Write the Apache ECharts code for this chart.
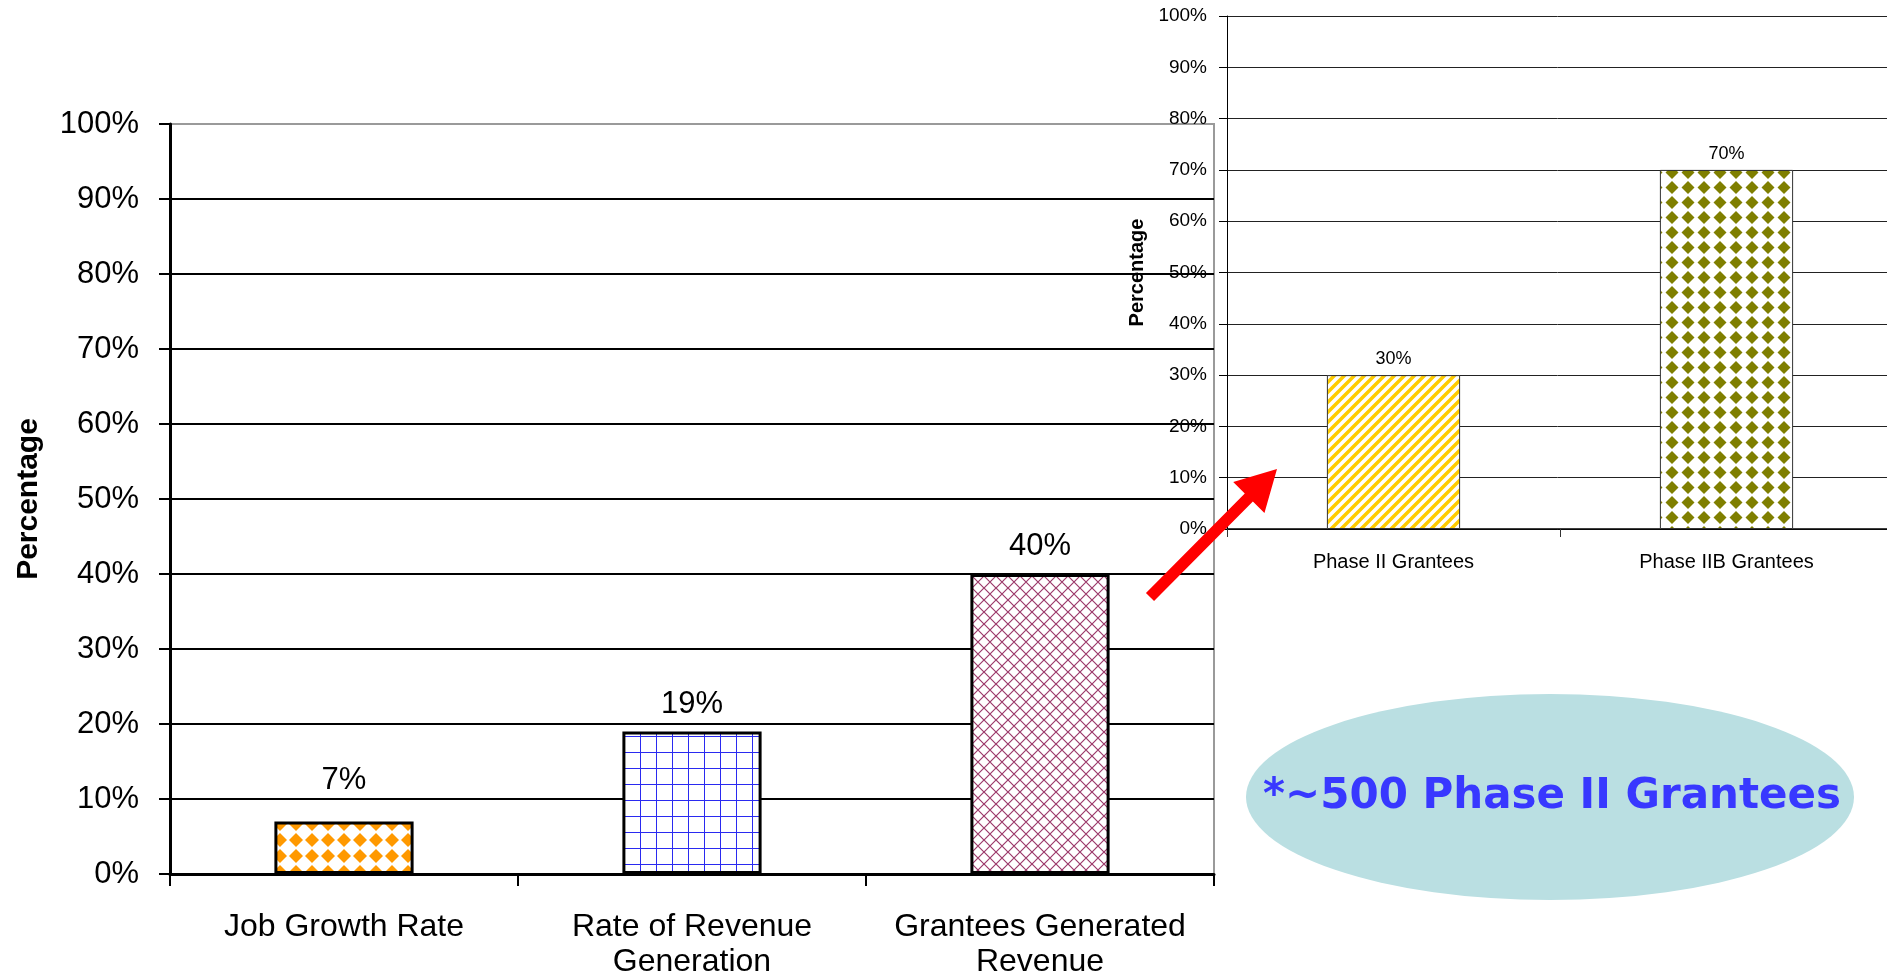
<!DOCTYPE html>
<html>
<head>
<meta charset="utf-8">
<script src="https://cdn.jsdelivr.net/npm/echarts@6/dist/echarts.min.js"></script>
<style>
html,body{margin:0;padding:0;background:#fff;}
#chart{width:1887px;height:975px;}
</style>
</head>
<body>
<div id="chart"></div>
<script>
// ---- data ----
const mainCategories = ['Job Growth Rate', 'Rate of Revenue\nGeneration', 'Grantees Generated\nRevenue'];
const mainValues = [7, 19, 40];
const insetCategories = ['Phase II Grantees', 'Phase IIB Grantees'];
const insetValues = [30, 70];
const yTickMin = 0, yTickMax = 100, yTickStep = 10;
const axisTitle = 'Percentage';
const noteText = '*~500 Phase II Grantees';

// ---- pattern helpers ----
function makeCanvas(w, h) { const c = document.createElement('canvas'); c.width = w; c.height = h; const x = c.getContext('2d'); x.fillStyle = '#fff'; x.fillRect(0, 0, w, h); return [c, x]; }
function diamonds(w, h, r, color) {
  const [c, x] = makeCanvas(w, h); x.fillStyle = color;
  const cx = w / 2, cy = h / 2;
  x.beginPath(); x.moveTo(cx, cy - r); x.lineTo(cx + r, cy); x.lineTo(cx, cy + r); x.lineTo(cx - r, cy); x.closePath(); x.fill();
  return c;
}
function gridPat(s, color) {
  const [c, x] = makeCanvas(s, s); x.fillStyle = color;
  x.fillRect(0, 0, s, 1); x.fillRect(0, 0, 1, s);
  return c;
}
function crossHatch(s, color) {
  const [c, x] = makeCanvas(s, s); x.strokeStyle = color; x.lineWidth = 1.2;
  x.beginPath(); x.moveTo(0, 0); x.lineTo(s, s); x.moveTo(s, 0); x.lineTo(0, s); x.stroke();
  return c;
}
function stripes(s, color, lw) {
  const [c, x] = makeCanvas(s, s); x.strokeStyle = color; x.lineWidth = lw;
  x.beginPath(); x.moveTo(-s, 2 * s); x.lineTo(2 * s, -s); x.moveTo(-s, s); x.lineTo(s, -s); x.moveTo(0, 2 * s); x.lineTo(2 * s, 0); x.stroke();
  return c;
}
const pat = c => ({ image: c, repeat: 'repeat' });
const mainPatterns = [pat(diamonds(16, 16, 7, '#FF9900')), pat(gridPat(16, '#2A2AF0')), pat(crossHatch(12, '#9C3A6A'))];
const insetPatterns = [pat(stripes(10, '#FFCC00', 3.5)), pat(diamonds(16, 15, 6.5, '#7F7F00'))];
const mainLabelDistance = [26, 12, 12];

const FONT = 'Liberation Sans, Arial, sans-serif';
const chart = echarts.init(document.getElementById('chart'), null, { renderer: 'canvas' });

const splitColorsMain = [];
for (let v = yTickMin; v <= yTickMax; v += yTickStep) splitColorsMain.push(v === yTickMax ? '#9a9a9a' : '#000');

// arrow geometry (decoration)
const tail = [1150, 597], tip = [1277, 469];
const dx = tip[0] - tail[0], dy = tip[1] - tail[1], L = Math.hypot(dx, dy);
const ux = dx / L, uy = dy / L, nx = -uy, ny = ux;
const headLen = 40, headHW = 22, shaftHW = 5.7;
const bx = tip[0] - headLen * ux, by = tip[1] - headLen * uy;
const arrowPts = [
  [tail[0] + shaftHW * nx, tail[1] + shaftHW * ny],
  [bx + shaftHW * nx, by + shaftHW * ny],
  [bx + headHW * nx, by + headHW * ny],
  tip,
  [bx - headHW * nx, by - headHW * ny],
  [bx - shaftHW * nx, by - shaftHW * ny],
  [tail[0] - shaftHW * nx, tail[1] - shaftHW * ny]
];

const option = {
  animation: false,
  backgroundColor: '#fff',
  textStyle: { fontFamily: FONT },
  grid: [
    { left: 170, right: 673, top: 124, bottom: 101, show: true, borderColor: '#9a9a9a', borderWidth: 2, backgroundColor: 'transparent', containLabel: false, outerBoundsMode: 'none' },
    { left: 1227, right: -6, top: 16, bottom: 446, show: false, containLabel: false, outerBoundsMode: 'none' }
  ],
  xAxis: [
    {
      gridIndex: 0, type: 'category', data: mainCategories,
      axisLine: { lineStyle: { color: '#000', width: 3 } },
      axisTick: { show: true, length: 12, lineStyle: { color: '#000', width: 2 } },
      axisLabel: { color: '#000', fontSize: 32, fontFamily: FONT, margin: 36, lineHeight: 35, interval: 0 }
    },
    {
      gridIndex: 1, type: 'category', data: insetCategories,
      axisLine: { lineStyle: { color: '#000', width: 1.5 } },
      axisTick: { show: true, length: 8, lineStyle: { color: '#333', width: 1 } },
      axisLabel: { color: '#000', fontSize: 20, fontFamily: FONT, margin: 23, interval: 0 }
    }
  ],
  yAxis: [
    {
      gridIndex: 0, type: 'value', min: yTickMin, max: yTickMax, interval: yTickStep,
      axisLine: { show: true, lineStyle: { color: '#000', width: 3 } },
      axisTick: { show: true, length: 11, lineStyle: { color: '#000', width: 2 } },
      axisLabel: { color: '#000', fontSize: 31, fontFamily: FONT, margin: 31, formatter: '{value}%' },
      splitLine: { show: true, lineStyle: { color: splitColorsMain, width: 2 } },
      name: axisTitle, nameLocation: 'middle', nameRotate: 90, nameGap: 126,
      nameTextStyle: { fontSize: 30, fontWeight: 'bold', color: '#000', fontFamily: FONT }
    },
    {
      gridIndex: 1, type: 'value', min: yTickMin, max: yTickMax, interval: yTickStep,
      axisLine: { show: true, lineStyle: { color: '#000', width: 1 } },
      axisTick: { show: true, length: 8, lineStyle: { color: '#000', width: 1 } },
      axisLabel: { color: '#000', fontSize: 19, fontFamily: FONT, margin: 20, formatter: '{value}%' },
      splitLine: { show: true, lineStyle: { color: '#222', width: 1 } },
      name: axisTitle, nameLocation: 'middle', nameRotate: 90, nameGap: 80,
      nameTextStyle: { fontSize: 20, fontWeight: 'bold', color: '#000', fontFamily: FONT }
    }
  ],
  series: [
    {
      type: 'bar', xAxisIndex: 0, yAxisIndex: 0, barWidth: '40%',
      data: mainValues.map((v, i) => ({ value: v, itemStyle: { color: mainPatterns[i] }, label: { distance: mainLabelDistance[i] } })),
      itemStyle: { borderColor: '#000', borderWidth: 3 },
      label: { show: true, position: 'top', formatter: '{c}%', fontSize: 31, color: '#000', fontFamily: FONT },
      z: 6
    },
    {
      type: 'bar', xAxisIndex: 1, yAxisIndex: 1, barWidth: '40%',
      data: insetValues.map((v, i) => ({ value: v, itemStyle: { color: insetPatterns[i] } })),
      itemStyle: { borderColor: '#333', borderWidth: 1 },
      label: { show: true, position: 'top', distance: 7, formatter: '{c}%', fontSize: 18, color: '#000', fontFamily: FONT },
      z: 6
    }
  ],
  graphic: [
    {
      type: 'circle', shape: { cx: 0, cy: 0, r: 103 }, x: 1550, y: 797, scaleX: 304 / 103, scaleY: 1,
      style: { fill: '#BADFE2' }, z: 10
    },
    {
      type: 'text', x: 1552, y: 797, z: 11,
      style: { text: noteText, fill: '#3838FF', font: 'bold 42px "Comic Sans MS", "DejaVu Sans", sans-serif', textAlign: 'center', textVerticalAlign: 'middle' }
    },
    {
      type: 'polygon', shape: { points: arrowPts }, style: { fill: '#FF0000' }, z: 20
    }
  ]
};
chart.setOption(option);
</script>
</body>
</html>
